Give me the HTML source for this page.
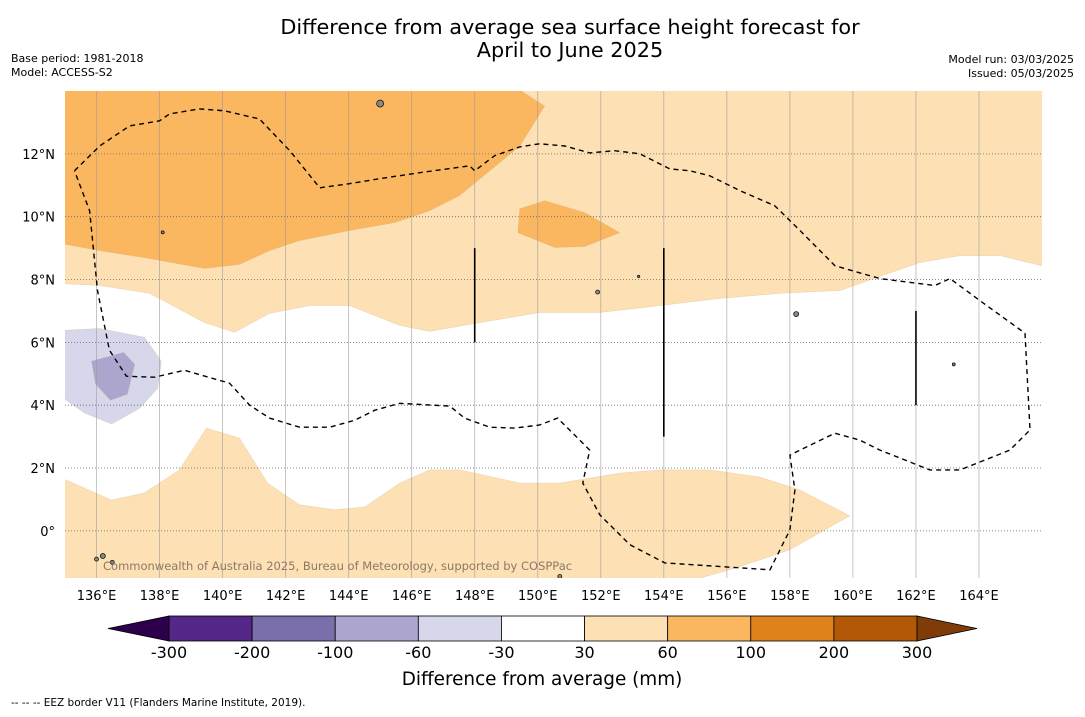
<!DOCTYPE html>
<html><head><meta charset="utf-8"><style>
body{margin:0;background:#fff;width:1085px;height:713px;overflow:hidden;font-family:"DejaVu Sans","Liberation Sans",sans-serif}
</style></head><body>
<svg id="chart" width="1085" height="713" viewBox="0 0 1085 713" xmlns="http://www.w3.org/2000/svg" font-family="DejaVu Sans, Liberation Sans, sans-serif">
<text x="570" y="34" font-size="20.8" text-anchor="middle">Difference from average sea surface height forecast for</text>
<text x="570" y="57" font-size="20.8" text-anchor="middle">April to June 2025</text>
<text x="11" y="62" font-size="11">Base period: 1981-2018</text>
<text x="11" y="76" font-size="11">Model: ACCESS-S2</text>
<text x="1074" y="63" font-size="11" text-anchor="end">Model run: 03/03/2025</text>
<text x="1074" y="77" font-size="11" text-anchor="end">Issued: 05/03/2025</text>
<defs><clipPath id="mapclip"><rect x="65" y="91" width="977" height="487"/></clipPath></defs>
<g id="map" clip-path="url(#mapclip)"></g>
<g id="axes"></g>
<g id="cbar"></g>
<text x="542" y="685" font-size="18.4" text-anchor="middle">Difference from average (mm)</text>
<text x="11" y="706" font-size="10.5">--  --  -- EEZ border V11 (Flanders Marine Institute, 2019).</text>
</svg>
<script>
const lonTicks=[136,138,140,142,144,146,148,150,152,154,156,158,160,162,164];
const latTicks=[0,2,4,6,8,10,12];
const cbBounds=[-300,-200,-100,-60,-30,30,60,100,200,300];
const cbColors=["#542788","#7b6fab","#aca6cf","#d6d7ea","#ffffff","#fde0b4","#fbb660","#e0821a","#b35806"];
const lonMin=135, lonMax=166, latMin=-1.5, latMax=14;
const topOrange=[[134.9,9.14],[136.1,8.92],[137.68,8.67],[139.43,8.35],[140.54,8.48],[141.49,8.92],[142.44,9.24],[144.03,9.56],[145.46,9.81],[146.57,10.19],[147.52,10.67],[148.48,11.46],[149.43,12.25],[150.22,13.52],[149.33,14.1],[134.9,14.1]];
const blobOrange=[[149.43,10.25],[150.22,10.51],[151.49,10.13],[152.6,9.49],[151.49,9.05],[150.54,9.02],[149.37,9.49]];
const whiteUpper=[[134.9,7.87],[136.1,7.81],[137.68,7.56],[139.43,6.63],[140.38,6.32],[141.49,6.92],[142.76,7.17],[144.03,7.17],[145.62,6.54],[146.57,6.35],[148.16,6.63],[150.06,6.95],[151.97,6.95],[153.87,7.17],[155.78,7.4],[157.68,7.56],[159.59,7.65],[160.86,8.1],[162.13,8.54],[163.4,8.76],[164.67,8.76],[166.1,8.41],[166.1,-1.6],[134.9,-1.6]];
const bottomLight=[[134.9,1.68],[136.48,0.98],[137.52,1.21],[138.63,1.94],[139.49,3.27],[140.54,2.95],[141.43,1.52],[142.44,0.83],[143.56,0.67],[144.51,0.76],[145.62,1.52],[146.57,1.94],[147.52,1.94],[149.43,1.52],[150.7,1.52],[152.6,1.84],[153.87,1.94],[155.46,1.94],[157.05,1.71],[158.32,1.3],[159.9,0.48],[158.0,-0.6],[156.41,-1.14],[154.83,-1.6],[134.9,-1.6]];
const purpleLight=[[134.9,6.38],[136.1,6.44],[137.52,6.16],[138.06,5.4],[137.94,4.54],[137.37,3.9],[136.48,3.4],[135.62,3.75],[134.9,4.25]];
const purpleDark=[[135.84,5.4],[136.86,5.68],[137.21,5.3],[136.98,4.35],[136.44,4.16],[135.97,4.67]];
const eez=[[135.3,11.46],[136.1,12.25],[137.05,12.89],[138.0,13.05],[138.32,13.27],[139.27,13.43],[140.06,13.37],[141.17,13.11],[142.13,12.1],[143.08,10.92],[144.03,11.05],[144.98,11.21],[146.25,11.4],[147.84,11.62],[148.0,11.46],[148.63,11.94],[149.43,12.22],[150.06,12.32],[150.86,12.25],[151.65,12.03],[152.44,12.1],[153.24,12.0],[154.19,11.52],[154.83,11.46],[155.46,11.3],[156.41,10.83],[157.52,10.35],[158.32,9.56],[159.43,8.44],[160.86,8.03],[162.6,7.81],[163.08,8.03],[164.03,7.33],[165.46,6.29],[165.62,3.21],[164.98,2.57],[163.4,1.94],[162.44,1.94],[160.86,2.57],[160.22,2.89],[159.43,3.11],[158.32,2.57],[158.0,2.41],[158.16,1.3],[158.0,0.03],[157.37,-1.24],[154.03,-1.02],[152.92,-0.44],[151.97,0.51],[151.43,1.52],[151.65,2.57],[151.17,3.05],[150.63,3.59],[150.06,3.37],[149.27,3.27],[148.48,3.3],[147.68,3.59],[147.21,3.97],[145.62,4.06],[144.83,3.84],[144.19,3.52],[143.4,3.3],[142.44,3.3],[141.49,3.59],[140.86,4.0],[140.22,4.7],[138.79,5.11],[137.84,4.89],[136.95,4.92],[136.41,5.75],[136.03,7.65],[135.78,10.19],[135.3,11.46]];
const segLons=[148,154,162];
const segTop=[9,9,7];
const segBot=[6,3,4];
const islands=[[145,13.6],[136.2,-0.8],[136.0,-0.9],[136.5,-1.0],[151.9,7.6],[158.2,6.9],[163.2,5.3],[153.2,8.1],[138.1,9.5],[150.7,-1.45]];
const islandSize=[3.5,2.5,2,2,2,2.5,1.5,1.2,1.5,2];

const NS="http://www.w3.org/2000/svg";
const X0=65,X1=1042,Y0=91,Y1=578;
const xs=lon=>X0+(lon-lonMin)/(lonMax-lonMin)*(X1-X0);
const ys=lat=>Y1-(lat-latMin)/(latMax-latMin)*(Y1-Y0);
function mk(tag,parent,attrs){const e=document.createElementNS(NS,tag);for(const k in attrs)e.setAttribute(k,attrs[k]);parent.appendChild(e);return e;}
const pts=a=>a.map(p=>xs(p[0]).toFixed(1)+","+ys(p[1]).toFixed(1)).join(" ");
const map=document.getElementById("map");
let r=mk("rect",map,{x:X0,y:Y0,width:X1-X0,height:Y1-Y0,fill:"#fde0b4"});


const fills=[[topOrange,"#fbb660","region-60-100-north"],[whiteUpper,"#ffffff","region-neutral"],[bottomLight,"#fde0b4","region-30-60-south"],[blobOrange,"#fbb660","region-60-100-blob"],[purpleLight,"#d6d7ea","region-neg60-30"],[purpleDark,"#aca6cf","region-neg100-60"]];
fills.forEach(f=>{const p=mk("polygon",map,{points:pts(f[0]),fill:f[1],stroke:"#c8a070","stroke-width":"0.4","stroke-opacity":"0.5"});

});
lonTicks.forEach(l=>{const g=mk("line",map,{x1:xs(l),x2:xs(l),y1:Y0,y2:Y1,stroke:"#999","stroke-width":"0.8","stroke-opacity":"0.7"});

});
latTicks.forEach(l=>{const g=mk("line",map,{x1:X0,x2:X1,y1:ys(l),y2:ys(l),stroke:"#666","stroke-width":"0.8","stroke-dasharray":"1,2"});

});
const ez=mk("polyline",map,{points:pts(eez),fill:"none",stroke:"#000","stroke-width":"1.4","stroke-dasharray":"5,4"});


segLons.forEach((l,i)=>{const s=mk("line",map,{x1:xs(l),x2:xs(l),y1:ys(segTop[i]),y2:ys(segBot[i]),stroke:"#000","stroke-width":"1.6"});

});
islands.forEach((p,i)=>{const c=mk("circle",map,{cx:xs(p[0]),cy:ys(p[1]),r:islandSize[i],fill:"#888",stroke:"#000","stroke-width":"0.7"});

});
const cp=mk("text",map,{x:103,y:570,"font-size":"11.5",fill:"#8a7a66"});cp.textContent="Commonwealth of Australia 2025, Bureau of Meteorology, supported by COSPPac";


const axes=document.getElementById("axes");
lonTicks.forEach(l=>{const t=mk("text",axes,{x:xs(l),y:600,"font-size":"13","text-anchor":"middle"});t.textContent=l+"°E";

});
latTicks.forEach(l=>{const t=mk("text",axes,{x:55,y:ys(l)+5,"font-size":"13","text-anchor":"end"});t.textContent=l===0?"0°":l+"°N";

});
const cb=document.getElementById("cbar");
const CB0=169,CB1=917,CY=616,CH=25;
const cx=i=>CB0+i*(CB1-CB0)/(cbBounds.length-1);
cbColors.forEach((c,i)=>{const b=mk("rect",cb,{x:cx(i),y:CY,width:cx(i+1)-cx(i),height:CH,fill:c,stroke:"#000","stroke-width":"0.8"});

});
let tl=mk("polygon",cb,{points:`${CB0},${CY} ${CB0},${CY+CH} 108,${CY+CH/2}`,fill:"#2d004b",stroke:"#000","stroke-width":"0.8"});


let tr=mk("polygon",cb,{points:`${CB1},${CY} ${CB1},${CY+CH} 977,${CY+CH/2}`,fill:"#7f3b08",stroke:"#000","stroke-width":"0.8"});


cbBounds.forEach((v,i)=>{const t=mk("text",cb,{x:cx(i),y:658,"font-size":"16","text-anchor":"middle"});t.textContent=v;

});
</script>
</body></html>
